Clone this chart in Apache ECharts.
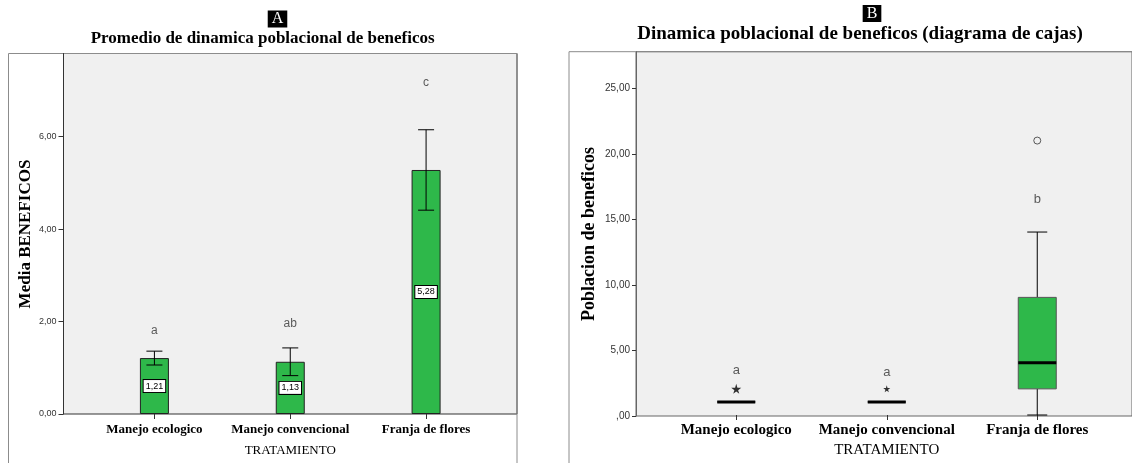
<!DOCTYPE html>
<html>
<head>
<meta charset="utf-8">
<script src="https://cdn.jsdelivr.net/npm/echarts@6/dist/echarts.min.js"></script>
<style>
html, body { margin: 0; padding: 0; background: #fff; }
#chart { width: 1132px; height: 463px; }
</style>
</head>
<body>
<div id="chart"></div>
<script>
// categorias comunes
var categories = ['Manejo ecologico', 'Manejo convencional', 'Franja de flores'];

// A: medias con barras de error
var means = [1.21, 1.13, 5.28];
var errLow = [1.06, 0.83, 4.41];
var errHigh = [1.36, 1.43, 6.15];
var lettersA = ['a', 'ab', 'c'];
var lettersAPos = [1.80, 1.95, 7.17];
var ticksA = [0, 2, 4, 6];

// B: diagrama de cajas [min, q1, mediana, q3, max]
var boxes = [[1, 1, 1, 1, 1], [1, 1, 1, 1, 1], [0, 2, 4, 9, 14]];
var outliers = [[2, 21]];
var extremes = [[0, 2], [1, 2]];
var lettersB = ['a', 'a', 'b'];
var lettersBPos = [3.43, 3.26, 16.47];
var ticksB = [0, 5, 10, 15, 20, 25];

var GREEN = '#2eb84a';
var SERIF = '"Liberation Serif", "Times New Roman", serif';
var SANS = '"Liberation Sans", Arial, sans-serif';
var STAR = 'path://M50,0 L61,35 L98,35 L68,57 L79,91 L50,70 L21,91 L32,57 L2,35 L39,35 Z';

function fmt(zeroText) {
    return function (v) {
        if (v === 0 && zeroText) return zeroText;
        return v.toFixed(2).replace('.', ',');
    };
}

var myChart = echarts.init(document.getElementById('chart'));

var option = {
    animation: false,
    grid: [
        // A fondo
        { left: 63.5, top: 53.5, width: 453.5, height: 360.5, show: true, backgroundColor: '#f0f0f0', borderColor: '#333', borderWidth: 1 },
        // A datos
        { left: 86.5, top: 53.5, width: 407.5, height: 360.5 },
        // B fondo
        { left: 636, top: 51.7, width: 540, height: 364.3, show: true, backgroundColor: '#f0f0f0', borderColor: '#666', borderWidth: 1 },
        // B datos
        { left: 661, top: 51.7, width: 451.5, height: 364.3 }
    ],
    xAxis: [
        { gridIndex: 0, type: 'value', show: false, min: 0, max: 1 },
        {
            gridIndex: 1, type: 'category', data: categories,
            axisLine: { show: false },
            axisTick: { show: true, alignWithLabel: true, length: 5, lineStyle: { color: '#333' } },
            axisLabel: { interval: 0, margin: 9, color: '#000', fontFamily: SERIF, fontWeight: 'bold', fontSize: 13 },
            name: 'TRATAMIENTO', nameLocation: 'middle', nameGap: 30,
            nameTextStyle: { color: '#000', fontFamily: SERIF, fontSize: 13 }
        },
        { gridIndex: 2, type: 'value', show: false, min: 0, max: 1 },
        {
            gridIndex: 3, type: 'category', data: categories,
            axisLine: { show: false },
            axisTick: { show: true, alignWithLabel: true, length: 5, lineStyle: { color: '#333' } },
            axisLabel: { interval: 0, margin: 8, color: '#000', fontFamily: SERIF, fontWeight: 'bold', fontSize: 15 },
            name: 'TRATAMIENTO', nameLocation: 'middle', nameGap: 28,
            nameTextStyle: { color: '#000', fontFamily: SERIF, fontSize: 15 }
        }
    ],
    yAxis: [
        {
            gridIndex: 0, type: 'value', min: 0, max: 7.8,
            splitLine: { show: false },
            axisLine: { show: true, lineStyle: { color: '#333' } },
            axisTick: { show: true, length: 5, customValues: ticksA, lineStyle: { color: '#333' } },
            axisLabel: { customValues: ticksA, formatter: fmt(null), margin: 7, color: '#333', fontFamily: SANS, fontSize: 9 }
        },
        { gridIndex: 1, type: 'value', min: 0, max: 7.8, show: false },
        {
            gridIndex: 2, type: 'value', min: 0, max: 27.8,
            splitLine: { show: false },
            axisLine: { show: true, lineStyle: { color: '#666' } },
            axisTick: { show: true, length: 4, customValues: ticksB, lineStyle: { color: '#333' } },
            axisLabel: { customValues: ticksB, formatter: fmt(',00'), margin: 6, color: '#333', fontFamily: SANS, fontSize: 10 }
        },
        { gridIndex: 3, type: 'value', min: 0, max: 27.8, show: false }
    ],
    graphic: [
        { type: 'rect', shape: { x: 8.5, y: 53.5, width: 508.5, height: 430 }, style: { fill: 'none', stroke: '#8c8c8c', lineWidth: 1 }, silent: true },
        { type: 'rect', shape: { x: 569, y: 51.7, width: 600, height: 430 }, style: { fill: 'none', stroke: '#8c8c8c', lineWidth: 1 }, silent: true },
        { type: 'text', x: 262.6, y: 39, style: { text: 'Promedio de dinamica poblacional de beneficos', font: 'bold 17px ' + SERIF, fill: '#000', align: 'center', verticalAlign: 'middle' } },
        { type: 'text', x: 277.5, y: 19, style: { text: 'A', font: '16px ' + SERIF, fill: '#fff', backgroundColor: '#000', padding: [1, 4, 0, 4], align: 'center', verticalAlign: 'middle' } },
        { type: 'text', x: 860, y: 34.5, style: { text: 'Dinamica poblacional de beneficos (diagrama de cajas)', font: 'bold 19px ' + SERIF, fill: '#000', align: 'center', verticalAlign: 'middle' } },
        { type: 'text', x: 872, y: 13.5, style: { text: 'B', font: '16px ' + SERIF, fill: '#fff', backgroundColor: '#000', padding: [1, 4, 0, 4], align: 'center', verticalAlign: 'middle' } },
        { type: 'text', x: 25.5, y: 234, rotation: Math.PI / 2, style: { text: 'Media BENEFICOS', font: 'bold 17px ' + SERIF, fill: '#000', align: 'center', verticalAlign: 'middle' } },
        { type: 'text', x: 589, y: 234, rotation: Math.PI / 2, style: { text: 'Poblacion de beneficos', font: 'bold 18px ' + SERIF, fill: '#000', align: 'center', verticalAlign: 'middle' } }
    ],
    series: [
        {
            type: 'bar', xAxisIndex: 1, yAxisIndex: 1,
            data: means, barWidth: 29,
            itemStyle: { color: GREEN, borderColor: '#222', borderWidth: 1 },
            label: {
                show: true, position: 'inside',
                formatter: function (p) { return p.value.toFixed(2).replace('.', ','); },
                backgroundColor: '#fff', borderColor: '#000', borderWidth: 1,
                padding: [2, 2, 1, 2], fontSize: 9, fontFamily: SANS, color: '#000'
            },
            z: 2
        },
        {
            type: 'custom', xAxisIndex: 1, yAxisIndex: 1,
            data: categories.map(function (c, i) { return [i, errLow[i], errHigh[i]]; }),
            renderItem: function (params, api) {
                var x = api.value(0);
                var lo = api.coord([x, api.value(1)]);
                var hi = api.coord([x, api.value(2)]);
                var cap = 8;
                var st = { stroke: '#000', lineWidth: 1 };
                return {
                    type: 'group', children: [
                        { type: 'line', shape: { x1: lo[0], y1: lo[1], x2: hi[0], y2: hi[1] }, style: st },
                        { type: 'line', shape: { x1: lo[0] - cap, y1: lo[1], x2: lo[0] + cap, y2: lo[1] }, style: st },
                        { type: 'line', shape: { x1: hi[0] - cap, y1: hi[1], x2: hi[0] + cap, y2: hi[1] }, style: st }
                    ]
                };
            },
            z: 3
        },
        {
            type: 'scatter', xAxisIndex: 1, yAxisIndex: 1,
            data: lettersAPos.map(function (v, i) { return [i, v]; }),
            symbolSize: 1, itemStyle: { color: 'transparent' },
            label: { show: true, position: 'inside', formatter: function (p) { return lettersA[p.dataIndex]; }, color: '#333', fontFamily: SANS, fontSize: 12 }
        },
        {
            type: 'custom', xAxisIndex: 3, yAxisIndex: 3,
            data: boxes.map(function (b, i) { return [i].concat(b); }),
            renderItem: function (params, api) {
                var x = api.value(0);
                var pMin = api.coord([x, api.value(1)]);
                var pQ1 = api.coord([x, api.value(2)]);
                var pMed = api.coord([x, api.value(3)]);
                var pQ3 = api.coord([x, api.value(4)]);
                var pMax = api.coord([x, api.value(5)]);
                var half = 19, cap = 10;
                var st = { stroke: '#000', lineWidth: 1 };
                return {
                    type: 'group', children: [
                        { type: 'line', shape: { x1: pMin[0], y1: pMin[1], x2: pQ1[0], y2: pQ1[1] }, style: st },
                        { type: 'line', shape: { x1: pQ3[0], y1: pQ3[1], x2: pMax[0], y2: pMax[1] }, style: st },
                        { type: 'line', shape: { x1: pMin[0] - cap, y1: pMin[1], x2: pMin[0] + cap, y2: pMin[1] }, style: st },
                        { type: 'line', shape: { x1: pMax[0] - cap, y1: pMax[1], x2: pMax[0] + cap, y2: pMax[1] }, style: st },
                        { type: 'rect', shape: { x: pQ3[0] - half, y: pQ3[1], width: half * 2, height: pQ1[1] - pQ3[1] }, style: { fill: GREEN, stroke: '#555', lineWidth: 1 } },
                        { type: 'line', shape: { x1: pMed[0] - half, y1: pMed[1], x2: pMed[0] + half, y2: pMed[1] }, style: { stroke: '#000', lineWidth: 3 } }
                    ]
                };
            },
            z: 2
        },
        {
            type: 'scatter', xAxisIndex: 3, yAxisIndex: 3,
            data: outliers, symbol: 'circle', symbolSize: 7,
            itemStyle: { color: 'transparent', borderColor: '#333', borderWidth: 1 }
        },
        {
            type: 'scatter', xAxisIndex: 3, yAxisIndex: 3,
            data: [
                { value: extremes[0], symbolSize: 10 },
                { value: extremes[1], symbolSize: 7 }
            ],
            symbol: STAR, itemStyle: { color: '#000' }
        },
        {
            type: 'scatter', xAxisIndex: 3, yAxisIndex: 3,
            data: lettersBPos.map(function (v, i) { return [i, v]; }),
            symbolSize: 1, itemStyle: { color: 'transparent' },
            label: { show: true, position: 'inside', formatter: function (p) { return lettersB[p.dataIndex]; }, color: '#333', fontFamily: SANS, fontSize: 13 }
        }
    ]
};

myChart.setOption(option);
window.addEventListener('resize', function () {
    myChart.resize();
});
</script>
</body>
</html>
